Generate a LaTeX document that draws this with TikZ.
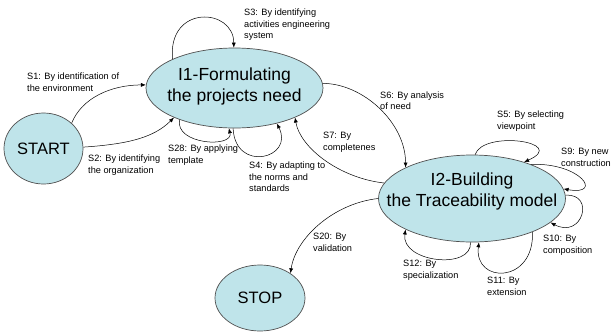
\documentclass[tikz,border=0pt]{standalone}
\usepackage{fontspec}
\setmainfont{Liberation Sans}
\usetikzlibrary{shapes.geometric,arrows.meta}
\definecolor{statefill}{RGB}{191,228,234}
\definecolor{stateline}{RGB}{80,80,80}
\tikzset{
  state/.style={ellipse, draw=stateline, line width=0.7pt, fill=statefill, inner sep=0pt},
  bigtext/.style={align=center, inner sep=0pt, font=\fontsize{17.5}{21}\selectfont},
  endtext/.style={inner sep=0pt, font=\fontsize{16.5}{20}\selectfont},
  lab/.style={anchor=base west, align=left, inner sep=0pt, font=\fontsize{9.2}{11.6}\selectfont},
  conn/.style={draw=black, line width=0.5pt, -{Latex[length=5pt,width=4pt]}}
}
\begin{document}
\begin{tikzpicture}[x=1pt,y=-1pt]
\useasboundingbox (0,0) rectangle (611,333);
\fill[white] (0,0) rectangle (611,333);

% states
\node[state, minimum width=79pt, minimum height=71pt] (start) at (43.5,148.5) {};
\node[endtext] (startt) at (43.5,148.5) {START};
\node[state, minimum width=177pt, minimum height=80pt] (i1) at (234.5,88) {};
\node[bigtext] (i1t) at (234.5,86.5) {I1-Formulating\\the projects need};
\node[state, minimum width=187pt, minimum height=87pt] (i2) at (472,198.5) {};
\node[bigtext] (i2t) at (472,191.5) {I2-Building\\the Traceability model};
\node[state, minimum width=90pt, minimum height=66pt] (stop) at (260,298) {};
\node[endtext] (stopt) at (260,298) {STOP};

% connectors
\draw[conn] (start.42) .. controls +(10,-25) and +(-35,0) .. (i1.178);
\draw[conn] (start.2) .. controls +(45,-3) and +(-20,20) .. (i1.206);
\draw[conn] (i1.155) .. controls +(-5,-55) and +(0,-40) .. (i1.91);
\draw[conn] (i1.210) .. controls +(-5,25) and +(5,20) .. (i1.262);
\draw[conn] (i1.268) .. controls +(2,45) and +(18,35) .. (i1.320);
\draw[conn] (i2.170) .. controls +(-45,-5) and +(5,30) .. (i1.334);
\draw[conn] (i1.3) .. controls +(40,0) and +(0,-45) .. (i2.155);
\draw[conn] (i2.86) .. controls +(8,-25) and +(45,-20) .. (i2.35);
\draw[conn] (i2.30) .. controls +(50,-2) and +(40,7) .. (i2.6);
\draw[conn] (i2.2) .. controls +(30,-2) and +(32,17) .. (i2.343);
\draw[conn] (i2.331) .. controls +(2,52) and +(-5,42) .. (i2.279);
\draw[conn] (i2.268) .. controls +(2,28) and +(-5,33) .. (i2.205);
\draw[conn] (i2.180) .. controls +(-45,5) and +(5,-35) .. (stop.39);

% labels (anchor = baseline of the last line)
\node[lab] (l3) at (244,38.7) {S3: By identifying\\activities engineering\\system};
\node[lab] (l1) at (27,91.1) {S1: By identification of\\the environment};
\node[lab] (l2) at (88,173.1) {S2: By identifying\\the organization};
\node[lab] (l28) at (168,163.1) {S28: By applying\\template};
\node[lab] (l4) at (249,191.7) {S4: By adapting to\\the norms and\\standards};
\node[lab] (l6) at (380,109.6) {S6: By analysis\\of need};
\node[lab] (l7) at (323,150.1) {S7: By\\completenes};
\node[lab] (l5) at (497,129.1) {S5: By selecting\\viewpoint};
\node[lab] (l9) at (561,166.1) {S9: By new\\construction};
\node[lab] (l10) at (543,253.1) {S10: By\\composition};
\node[lab] (l11) at (487,295.1) {S11: By\\extension};
\node[lab] (l12) at (403,278.1) {S12: By\\specialization};
\node[lab] (l20) at (313,251.1) {S20: By\\validation};
\end{tikzpicture}
\end{document}
